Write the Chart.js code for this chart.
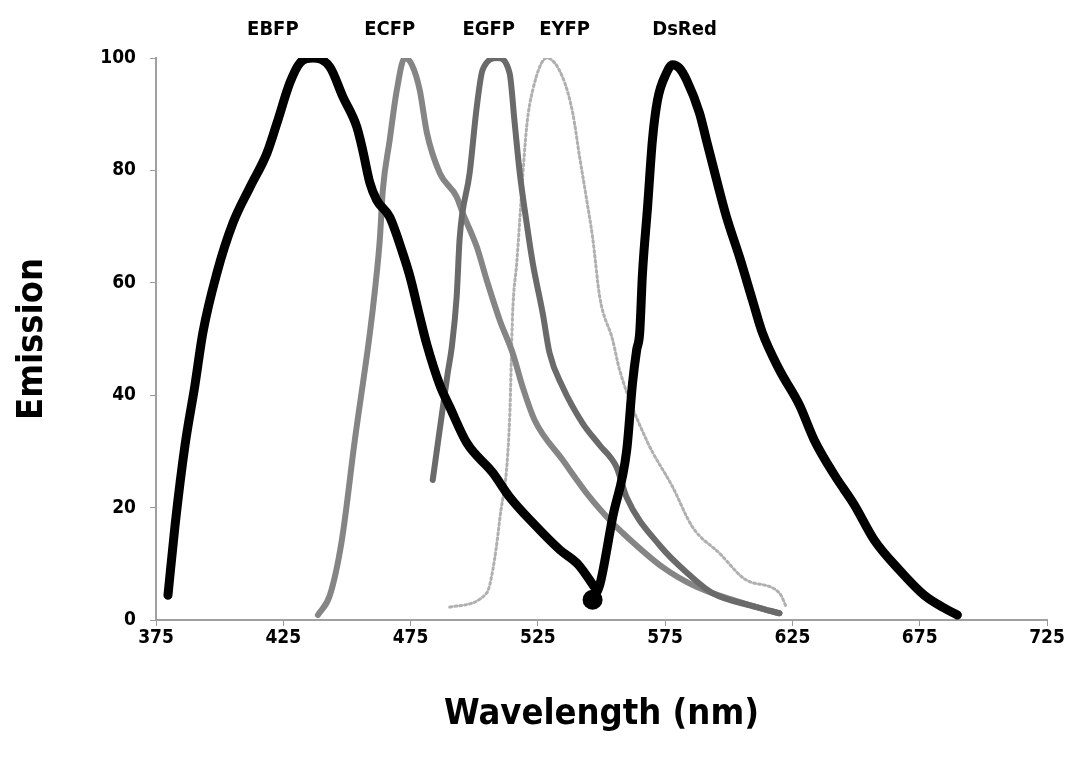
<!DOCTYPE html>
<html>
<head>
<meta charset="utf-8">
<script src="https://cdn.jsdelivr.net/npm/chart.js@4"></script>
<style>
  html, body { margin: 0; padding: 0; background: #fff; }
  #wrap { width: 1069px; height: 758px; position: relative; }
</style>
</head>
<body>
<div id="wrap"><canvas id="emission-chart"></canvas></div>
<script>
// emission spectra, wavelength (nm) vs relative emission
const ebfpNm  = [379.7, 382.5, 386.4, 390.3, 393.4, 398.9, 405.2, 411.9, 418.6, 422.5, 427.6, 431.5, 436.6, 443.3, 448.4, 453.9, 456.2, 459, 461.7, 466.8, 471.9, 474.7, 478.6, 481.4, 486.5, 490.4, 497.1, 507.3, 513.9, 523, 533.6, 541, 547];
const ebfpVal = [4.4, 16.9, 31.1, 41.8, 51.1, 61.7, 70.6, 77, 83.1, 88.4, 95.6, 99.1, 100, 98.4, 93.1, 87.7, 83.6, 77.8, 74.7, 71.7, 65.3, 61.2, 54, 49, 41.8, 37.9, 31.5, 26.2, 21.9, 17.3, 12.5, 9.8, 6];

const ecfpNm  = [438.6, 443.3, 448, 453.1, 459, 461, 462.9, 464.1, 466.8, 469.6, 472.7, 475.5, 478.6, 481.4, 486.5, 493.1, 495.5, 501, 504.9, 510, 515.1, 519, 523.7, 534.7, 545.3, 553.2, 558.3, 574, 587.3, 610.9, 619.9];
const ecfpVal = [0.9, 4.4, 14.2, 32, 51, 58.7, 67.6, 76.5, 85.4, 94.3, 100, 98.8, 94.3, 86.7, 79.5, 75.3, 72.4, 66.4, 60.5, 53.4, 47.5, 41.5, 35.6, 28.5, 21.9, 17.8, 15.5, 9.4, 5.9, 2.3, 1.2];

const egfpNm  = [483.7, 489.6, 491.2, 493.1, 494.3, 498.2, 501, 503.3, 509.2, 513.9, 515.9, 517.9, 520.6, 523, 526.9, 529.6, 534.7, 542.6, 549.3, 555.9, 559.8, 572.8, 584.6, 593.6, 610.9, 619.9];
const egfpVal = [24.9, 44, 48.6, 57.5, 68, 79.5, 91.3, 97.9, 100, 97.3, 88.4, 79.5, 70.6, 63.5, 54.6, 47.5, 41.5, 35, 31.1, 27.2, 21.9, 13.3, 8, 4.8, 2.3, 1.2];

const eyfpNm  = [490.4, 504.9, 507.3, 510, 513.9, 515.1, 516.7, 520.6, 523, 528.5, 534.7, 538.7, 541.4, 544.2, 546.5, 549.3, 554.4, 557.1, 567.7, 577.9, 585.8, 596.3, 606.9, 619.9, 622.6];
const eyfpVal = [2.3, 4.8, 8.9, 17.8, 35.6, 54.6, 63.5, 87.7, 94.3, 100, 96.6, 90.2, 82.4, 74.7, 68.1, 57.5, 49.8, 44.5, 32, 23.7, 16.5, 11.9, 7.1, 4.8, 2.3];

const dsredNm  = [546.5, 549.3, 554.4, 559.9, 562.2, 563.8, 565, 566.1, 568.1, 570, 572, 575.5, 577.9, 580.6, 583.4, 588.5, 591.2, 595.2, 599.1, 604.2, 609.3, 613.2, 619.9, 627.7, 633.6, 641.5, 649.3, 657.2, 667, 676.8, 684.7, 689.8];
const dsredVal = [3.6, 6.2, 18.3, 30.2, 42.2, 48, 51.1, 61.7, 73.5, 85.4, 92.5, 97.3, 98.8, 98.2, 96.1, 90.2, 85.4, 78.3, 71.7, 64.6, 56.9, 51.1, 44.5, 38.3, 32, 25.8, 20.5, 14.2, 8.9, 4.4, 2.1, 0.9];

const seriesNames = ['EBFP', 'ECFP', 'EGFP', 'EYFP', 'DsRed'];
const nameAtNm = [420.9, 466.8, 505.7, 535.5, 582.6];

const xTicks = [375, 425, 475, 525, 575, 625, 675, 725];
const yTicks = [0, 20, 40, 60, 80, 100];

const condFont = "'DejaVu Sans Condensed', 'Liberation Sans Narrow', 'DejaVu Sans', sans-serif";

function toPoints(xs, ys) {
    return xs.map((x, i) => ({x: x, y: ys[i]}));
}

const seriesLabels = {
    id: 'seriesLabels',
    afterDraw(chart) {
        const ctx = chart.ctx;
        const xScale = chart.scales.x;
        ctx.save();
        ctx.font = 'bold 20px ' + condFont;
        ctx.fillStyle = '#000';
        ctx.textAlign = 'center';
        ctx.textBaseline = 'middle';
        seriesNames.forEach((name, i) => {
            ctx.fillText(name, xScale.getPixelForValue(nameAtNm[i]), 30);
        });
        ctx.restore();
    }
};

function makeLine(label, xs, ys, color, width, order, dash) {
    return {
        label: label,
        data: toPoints(xs, ys),
        borderColor: color,
        backgroundColor: color,
        borderWidth: width,
        borderDash: dash || [],
        borderCapStyle: 'round',
        borderJoinStyle: 'round',
        pointRadius: 0,
        cubicInterpolationMode: 'monotone',
        fill: false,
        order: order
    };
}

const canvas = document.getElementById('emission-chart');

// DsRed starts in a round blob where it meets the EBFP tail
const dsredLine = makeLine('DsRed', dsredNm, dsredVal, '#000000', 9, 0);
dsredLine.pointRadius = dsredNm.map((v, i) => i === 0 ? 10 : 0);
dsredLine.pointBorderWidth = 0;

new Chart(canvas, {
    type: 'line',
    data: {
        datasets: [
            makeLine('EBFP', ebfpNm, ebfpVal, '#000000', 9, 1),
            dsredLine,
            makeLine('ECFP', ecfpNm, ecfpVal, '#858585', 6, 3),
            makeLine('EGFP', egfpNm, egfpVal, '#6a6a6a', 6, 2),
            makeLine('EYFP', eyfpNm, eyfpVal, '#b0b0b0', 3, 4, [2, 3])
        ]
    },
    options: {
        responsive: true,
        maintainAspectRatio: false,
        animation: false,
        layout: {padding: {left: 5, right: 22, top: 58, bottom: 18}},
        plugins: {
            legend: {display: false},
            tooltip: {enabled: false}
        },
        scales: {
            x: {
                type: 'linear',
                min: 375,
                max: 725,
                afterBuildTicks: scale => { scale.ticks = xTicks.map(v => ({value: v})); },
                afterFit: scale => { scale.height = 120; },
                grid: {drawOnChartArea: false, drawTicks: true, tickLength: 6, color: '#999'},
                border: {display: true, color: '#a0a0a0', width: 2, dash: [2, 2]},
                ticks: {
                    color: '#000',
                    padding: 1,
                    maxRotation: 0,
                    font: {family: condFont, size: 19, weight: 'bold'}
                },
                title: {
                    display: true,
                    text: 'Wavelength (nm)',
                    color: '#000',
                    padding: {top: 0, bottom: 4},
                    font: {family: condFont, size: 36, weight: 'bold'}
                }
            },
            y: {
                min: 0,
                max: 100,
                afterBuildTicks: scale => { scale.ticks = yTicks.map(v => ({value: v})); },
                afterFit: scale => { scale.width = 151; },
                grid: {drawOnChartArea: false, drawTicks: true, tickLength: 6, color: '#999'},
                border: {display: true, color: '#a0a0a0', width: 2, dash: [2, 2]},
                ticks: {
                    color: '#000',
                    padding: 14,
                    font: {family: condFont, size: 19, weight: 'bold'}
                },
                title: {
                    display: true,
                    text: 'Emission',
                    color: '#000',
                    padding: {top: 6, bottom: 0},
                    font: {family: condFont, size: 36, weight: 'bold'}
                }
            }
        }
    },
    plugins: [seriesLabels]
});
</script>
</body>
</html>
